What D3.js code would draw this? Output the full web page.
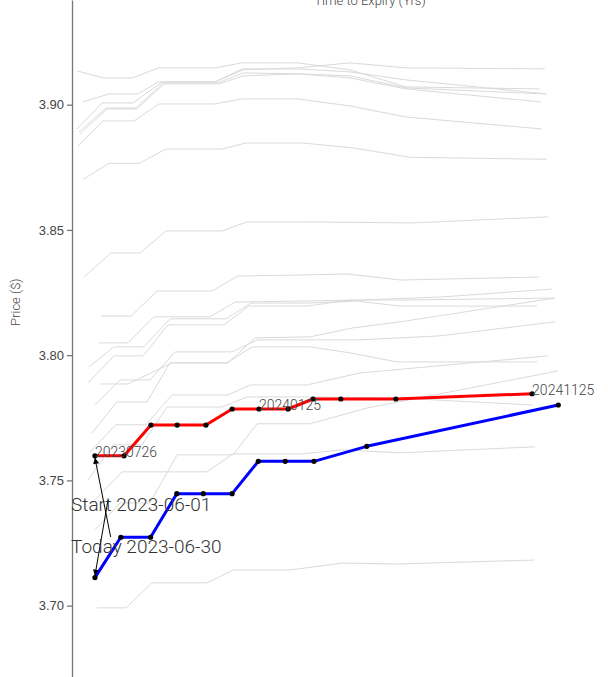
<!DOCTYPE html>
<html>
<head>
<meta charset="utf-8">
<script src="https://cdn.jsdelivr.net/npm/d3@7"></script>
<style>
  body { margin: 0; background: #fff; }
  svg { display: block; font-family: Roboto, 'Noto Sans', sans-serif; }
  .axis path, .axis line { stroke: #777; stroke-width: 1.3; }
  .axis text { fill: #444; font-size: 13px; font-weight: 300; }
  .hist { fill: none; stroke: #dadada; stroke-width: 1; }
  .curve { fill: none; stroke-width: 3; stroke-linejoin: round; }
  .title { fill: #444; font-size: 13px; font-weight: 300; }
  .expiry { fill: #444; font-size: 14px; font-weight: 300; }
  .note { fill: #333; font-size: 19px; font-weight: 300; }
</style>
</head>
<body>
<script>
const WIDTH = 608
const HEIGHT = 677

// curve on start date (red) and today (blue): time to expiry in years, price in $
const startExpiry = [0.150, 0.239, 0.321, 0.401, 0.489, 0.569, 0.651, 0.740, 0.816, 0.901, 1.069, 1.485]
const startPrice  = [3.7598, 3.7598, 3.7721, 3.7721, 3.7721, 3.7785, 3.7785, 3.7785, 3.7825, 3.7825, 3.7825, 3.7846]
const todayExpiry = [0.150, 0.229, 0.320, 0.400, 0.481, 0.569, 0.649, 0.731, 0.819, 0.980, 1.565]
const todayPrice  = [3.7112, 3.7273, 3.7273, 3.7447, 3.7447, 3.7447, 3.7576, 3.7576, 3.7576, 3.7636, 3.7801]

// labelled contracts on the start curve
const labelIndex = [0, 6, 11]
const labelText = ['20230726', '20240125', '20241125']

// history of curves between start and today (grey)
const histExpiry = [
  [0.095, 0.175, 0.266, 0.343, 0.517, 0.599, 0.770, 0.929, 1.100, 1.509],
  [0.114, 0.193, 0.282, 0.343, 0.517, 0.599, 0.770, 0.929, 1.100, 1.530],
  [0.095, 0.172, 0.266, 0.355, 0.517, 0.602, 0.770, 0.929, 1.100, 1.524],
  [0.101, 0.184, 0.275, 0.358, 0.526, 0.602, 0.770, 0.929, 1.100, 1.512],
  [0.104, 0.187, 0.278, 0.361, 0.529, 0.602, 0.770, 0.929, 1.100, 1.524],
  [0.098, 0.175, 0.269, 0.346, 0.517, 0.599, 0.770, 0.929, 1.100, 1.515],
  [0.114, 0.193, 0.285, 0.367, 0.538, 0.611, 0.785, 0.941, 1.112, 1.530],
  [0.117, 0.199, 0.288, 0.367, 0.538, 0.614, 0.791, 1.121, 1.533],
  [0.169, 0.260, 0.340, 0.507, 0.587, 0.776, 0.920, 1.085, 1.506],
  [0.162, 0.251, 0.330, 0.501, 0.578, 0.776, 0.950, 1.204, 1.546],
  [0.132, 0.208, 0.300, 0.379, 0.550, 0.627, 0.795, 0.950, 1.082, 1.500],
  [0.129, 0.208, 0.297, 0.373, 0.544, 0.620, 0.798, 0.929, 1.082, 1.555],
  [0.166, 0.251, 0.385, 0.556, 0.639, 0.807, 0.938, 1.082, 1.555],
  [0.150, 0.227, 0.318, 0.395, 0.569, 0.645, 0.807, 0.959, 1.204, 1.555],
  [0.141, 0.217, 0.309, 0.379, 0.553, 0.630, 0.807, 0.929, 1.072, 1.500],
  [0.135, 0.214, 0.306, 0.385, 0.556, 0.624, 0.798, 0.959, 1.533],
  [0.129, 0.205, 0.294, 0.370, 0.538, 0.614, 0.807, 1.072, 1.488],
  [0.150, 0.227, 0.318, 0.401, 0.572, 0.645, 0.807, 0.981, 1.564],
  [0.150, 0.233, 0.492, 0.572, 0.785, 0.904, 1.082, 1.494],
  [0.156, 0.245, 0.324, 0.492, 0.572, 0.743, 0.907, 1.069, 1.491]
]
const histPrice = [
  [3.9135, 3.9107, 3.9107, 3.9147, 3.9147, 3.9167, 3.9167, 3.9139, 3.9071, 3.9063],
  [3.9011, 3.9043, 3.9043, 3.9091, 3.9091, 3.9143, 3.9143, 3.9131, 3.9099, 3.9043],
  [3.8903, 3.9007, 3.9007, 3.9091, 3.9091, 3.9139, 3.9147, 3.9167, 3.9147, 3.9143],
  [3.8891, 3.8987, 3.8987, 3.9087, 3.9087, 3.9127, 3.9123, 3.9107, 3.9063, 3.9011],
  [3.8883, 3.8983, 3.8983, 3.9083, 3.9083, 3.9115, 3.9123, 3.9115, 3.9067, 3.9043],
  [3.8835, 3.8935, 3.8935, 3.9003, 3.9003, 3.9023, 3.9023, 3.8995, 3.8951, 3.8903],
  [3.8702, 3.8766, 3.8766, 3.8823, 3.8823, 3.8847, 3.8847, 3.8827, 3.8790, 3.8782],
  [3.8312, 3.8408, 3.8408, 3.8496, 3.8496, 3.8532, 3.8532, 3.8528, 3.8552],
  [3.8156, 3.8156, 3.8256, 3.8256, 3.8316, 3.8320, 3.8324, 3.8300, 3.8312],
  [3.8049, 3.8049, 3.8153, 3.8153, 3.8212, 3.8216, 3.8220, 3.8232, 3.8264],
  [3.7953, 3.8033, 3.8033, 3.8145, 3.8145, 3.8208, 3.8208, 3.8216, 3.8196, 3.8196],
  [3.7889, 3.7997, 3.7997, 3.8121, 3.8121, 3.8196, 3.8196, 3.8220, 3.8220, 3.8228],
  [3.7885, 3.7885, 3.7969, 3.7969, 3.8069, 3.8073, 3.8109, 3.8133, 3.8228],
  [3.7801, 3.7901, 3.7901, 3.8013, 3.8013, 3.8061, 3.8061, 3.8061, 3.8077, 3.8133],
  [3.7689, 3.7813, 3.7813, 3.7969, 3.7969, 3.8033, 3.8033, 3.8009, 3.7973, 3.7973],
  [3.7614, 3.7722, 3.7722, 3.7841, 3.7841, 3.7881, 3.7881, 3.7929, 3.7997],
  [3.7502, 3.7642, 3.7642, 3.7793, 3.7793, 3.7833, 3.7833, 3.7829, 3.7801],
  [3.7302, 3.7410, 3.7410, 3.7602, 3.7602, 3.7726, 3.7726, 3.7789, 3.7937],
  [3.7422, 3.7534, 3.7534, 3.7606, 3.7606, 3.7622, 3.7610, 3.7634],
  [3.6991, 3.6991, 3.7091, 3.7091, 3.7142, 3.7142, 3.7170, 3.7166, 3.7182]
]

const priceTicks = [3.70, 3.75, 3.80, 3.85, 3.90]

// annotations: text anchor and arrow tail, arrow head on first point of each curve
const noteText = ['Start 2023-06-01', 'Today 2023-06-30']
const noteAt = [[0.077, 3.7378], [0.077, 3.7210]]
const noteTail = [[0.198, 3.7274], [0.190, 3.7422]]

// scales (plot runs past the right and top edge of the window)
let x = d3.scaleLinear().domain([0.08, 1.9]).range([72, 668])
let y = d3.scaleLinear().domain([3.6715, 3.9418]).range([HEIGHT, 0])

let svg = d3.select('body')
  .append('svg')
  .attr('width', WIDTH)
  .attr('height', HEIGHT)

svg.append('defs').append('marker')
  .attr('id', 'head')
  .attr('viewBox', '0 0 10 10')
  .attr('refX', 10)
  .attr('refY', 5)
  .attr('markerUnits', 'userSpaceOnUse')
  .attr('markerWidth', 8)
  .attr('markerHeight', 6)
  .attr('orient', 'auto')
  .append('path')
    .attr('d', 'M0,0L10,5L0,10z')
    .attr('fill', '#000')

let line = d3.line()
  .x((d) => x(d[0]))
  .y((d) => y(d[1]))

// grey history
svg.append('g')
  .selectAll('path')
  .data(histExpiry.map((ts, i) => ts.map((t, j) => [t, histPrice[i][j]])))
  .enter().append('path')
    .attr('class', 'hist')
    .attr('d', line)

// price axis (time axis sits above the window, only its title shows)
svg.append('g')
  .attr('class', 'axis')
  .attr('transform', 'translate(72,0)')
  .call(d3.axisLeft(y).tickValues(priceTicks).tickFormat(d3.format('.2f')).tickSize(5).tickSizeOuter(0))

svg.append('text')
  .attr('class', 'title')
  .attr('x', (x.range()[0] + x.range()[1]) / 2)
  .attr('y', 5)
  .attr('text-anchor', 'middle')
  .text('Time to Expiry (Yrs)')

svg.append('text')
  .attr('class', 'title')
  .attr('transform', 'translate(20,' + (y(3.80) - 53) + ') rotate(-90)')
  .attr('text-anchor', 'middle')
  .text('Price ($)')

// the two curves
let curves = [
  { color: '#ff0000', pts: startExpiry.map((t, i) => [t, startPrice[i]]) },
  { color: '#0000ff', pts: todayExpiry.map((t, i) => [t, todayPrice[i]]) }
]

let curve = svg.append('g')
  .selectAll('g')
  .data(curves)
  .enter().append('g')

curve.append('path')
  .attr('class', 'curve')
  .attr('stroke', (d) => d.color)
  .attr('d', (d) => line(d.pts))

curve.selectAll('circle')
  .data((d) => d.pts)
  .enter().append('circle')
    .attr('cx', (d) => x(d[0]))
    .attr('cy', (d) => y(d[1]))
    .attr('r', 2.6)
    .attr('fill', '#000')

// expiry labels on the start curve
svg.append('g')
  .selectAll('text')
  .data(labelIndex)
  .enter().append('text')
    .attr('class', 'expiry')
    .attr('x', (i) => x(startExpiry[i]))
    .attr('y', (i) => y(startPrice[i]) + 1)
    .text((i, k) => labelText[k])

// start / today annotations
let heads = [[startExpiry[0], startPrice[0]], [todayExpiry[0], todayPrice[0]]]

svg.append('g')
  .selectAll('line')
  .data(noteTail)
  .enter().append('line')
    .attr('x1', (d) => x(d[0]))
    .attr('y1', (d) => y(d[1]))
    .attr('x2', (d, i) => x(heads[i][0]))
    .attr('y2', (d, i) => y(heads[i][1]) + (i ? -2 : 2))
    .attr('stroke', '#000')
    .attr('stroke-width', 1)
    .attr('marker-end', 'url(#head)')

svg.append('g')
  .selectAll('text')
  .data(noteText)
  .enter().append('text')
    .attr('class', 'note')
    .attr('x', (d, i) => x(noteAt[i][0]))
    .attr('y', (d, i) => y(noteAt[i][1]))
    .text((d) => d)
</script>
</body>
</html>
